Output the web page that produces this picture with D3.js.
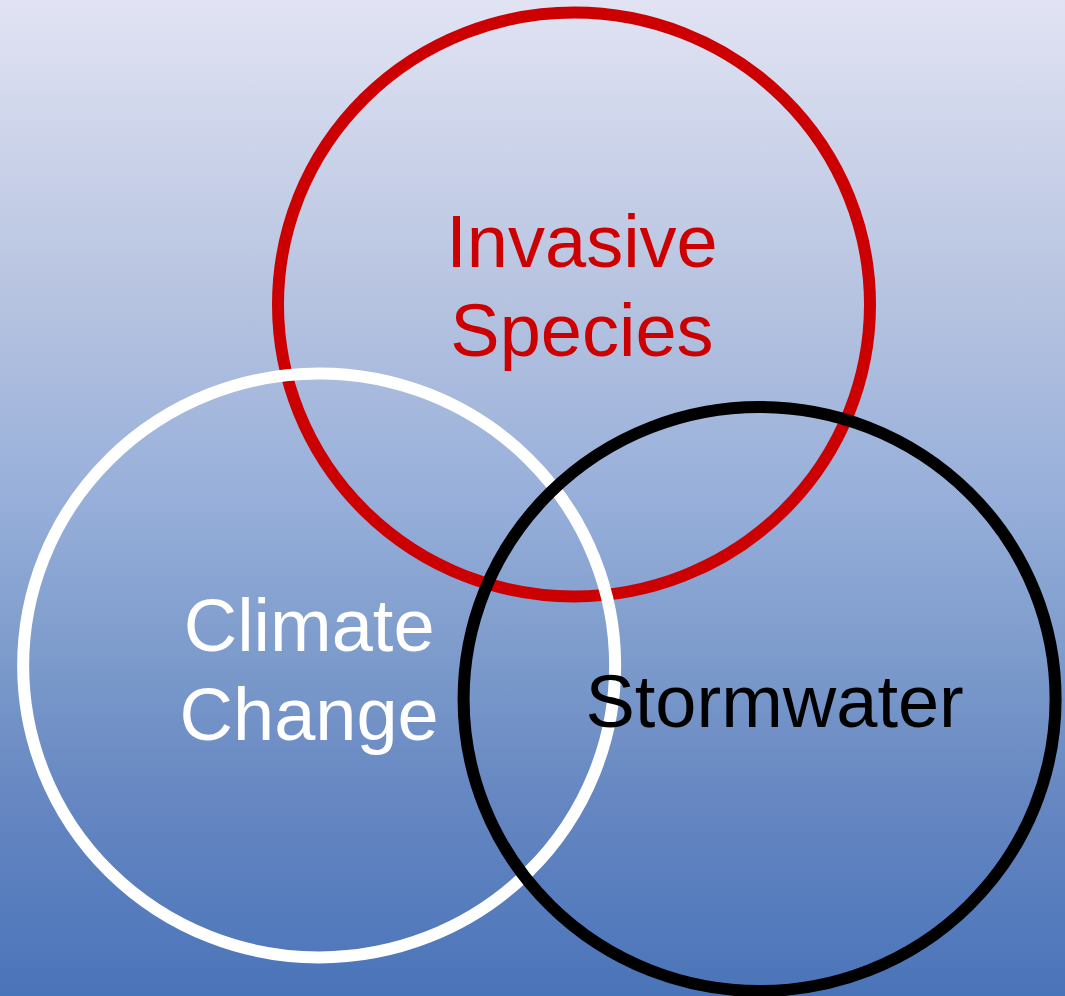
<!DOCTYPE html>
<html>
<head>
<meta charset="utf-8">
<script src="https://cdnjs.cloudflare.com/ajax/libs/d3/7.8.5/d3.min.js"></script>
<style>
  html, body { margin: 0; padding: 0; background: #fff; }
  svg { display: block; }
</style>
</head>
<body>
<div id="chart"></div>
<script>
// sets of the diagram
var setNames  = ['Invasive Species', 'Climate Change', 'Stormwater'];
var setLines  = [['Invasive', 'Species'], ['Climate', 'Change'], ['Stormwater']];
// set centres in units of one circle radius (Invasive Species = origin)
var setCx     = [0, -0.861, 0.627];
var setCy     = [0, 1.236, 1.351];
var setColors = ['#cc0000', '#ffffff', '#000000'];

var width = 1065, height = 996;

var svg = d3.select('#chart').append('svg')
    .attr('width', width)
    .attr('height', height);

// background gradient
var defs = svg.append('defs');
var grad = defs.append('linearGradient')
    .attr('id', 'bg')
    .attr('x1', 0).attr('y1', 0).attr('x2', 0).attr('y2', 1);
var stops = [
    [0,    '#e1e3f3'],
    [0.3,  '#b6c3e0'],
    [0.5,  '#97afda'],
    [0.65, '#7e9ccc'],
    [0.8,  '#6687c2'],
    [1,    '#4a74b9']
];
grad.selectAll('stop')
    .data(stops)
    .enter().append('stop')
    .attr('offset', function(d) { return d[0]; })
    .attr('stop-color', function(d) { return d[1]; });

svg.append('rect')
    .attr('width', width)
    .attr('height', height)
    .attr('fill', 'url(#bg)');

// scales: radius units -> pixels
var x = d3.scaleLinear().domain([0, 1]).range([574, 574 + 296]);
var y = d3.scaleLinear().domain([0, 1]).range([304.5, 304.5 + 292]);
var rx = x(1) - x(0), ry = y(1) - y(0);

var sets = setNames.map(function(n, i) {
    return {name: n, lines: setLines[i], cx: setCx[i], cy: setCy[i], color: setColors[i]};
});

svg.selectAll('ellipse.set')
    .data(sets)
    .enter().append('ellipse')
    .attr('class', 'set')
    .attr('cx', function(d) { return x(d.cx); })
    .attr('cy', function(d) { return y(d.cy); })
    .attr('rx', rx)
    .attr('ry', ry)
    .attr('fill', 'none')
    .attr('stroke', function(d) { return d.color; })
    .attr('stroke-width', 12);

// label placement relative to each circle centre (px)
var labelDx = [8, -10, 15];
var labelDy = [-38, -14, 28];
var lineH = 89;

var labels = svg.selectAll('text.label')
    .data(sets)
    .enter().append('text')
    .attr('class', 'label')
    .attr('text-anchor', 'middle')
    .attr('font-family', 'Liberation Sans, Arial, sans-serif')
    .attr('font-size', 74)
    .attr('fill', function(d) { return d.color; });

labels.each(function(d, i) {
    var t = d3.select(this);
    d.lines.forEach(function(line, j) {
        t.append('tspan')
            .attr('x', x(d.cx) + labelDx[i])
            .attr('y', y(d.cy) + labelDy[i] + j * lineH)
            .text(line);
    });
});
</script>
</body>
</html>
